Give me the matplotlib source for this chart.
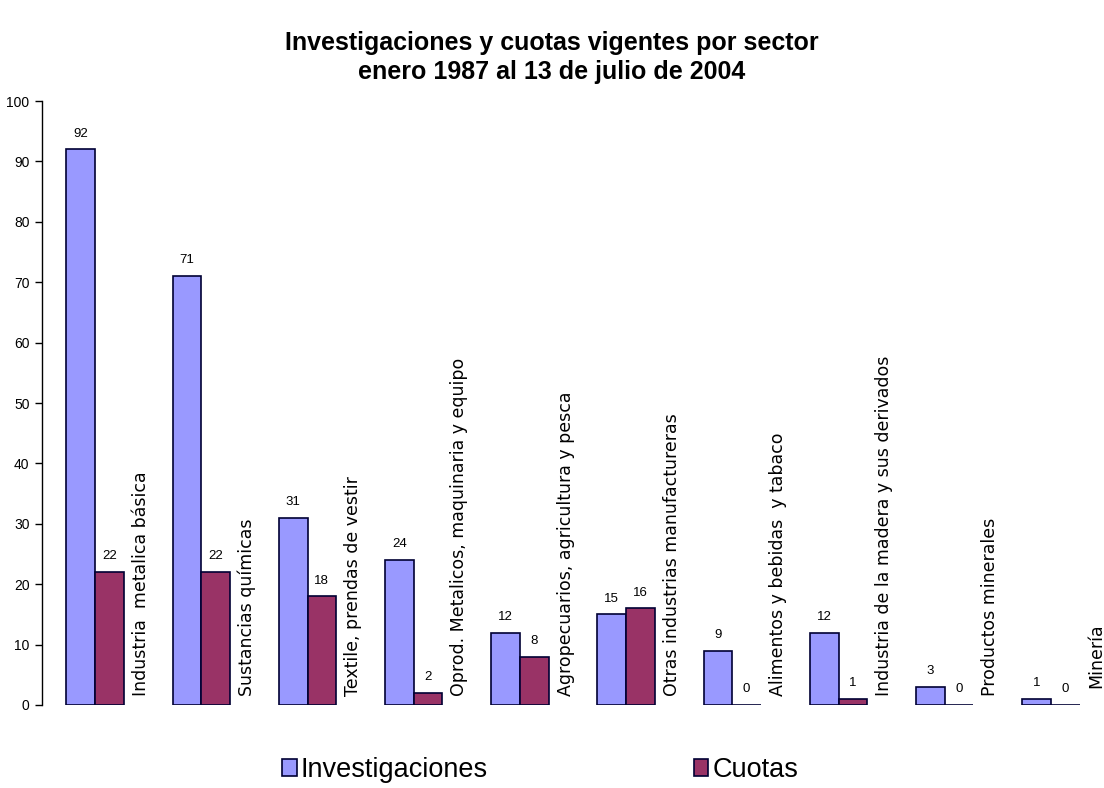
import matplotlib
matplotlib.use("Agg")
import matplotlib.pyplot as plt
import numpy as np

plt.rcParams['font.family'] = ['Liberation Sans', 'DejaVu Sans']

categories = [
    "Industria  metalica básica",
    "Sustancias químicas",
    "Textile, prendas de vestir",
    "Oprod. Metalicos, maquinaria y equipo",
    "Agropecuarios, agricultura y pesca",
    "Otras industrias manufactureras",
    "Alimentos y bebidas  y tabaco",
    "Industria de la madera y sus derivados",
    "Productos minerales",
    "Minería",
]
investigaciones = [92, 71, 31, 24, 12, 15, 9, 12, 3, 1]
cuotas = [22, 22, 18, 2, 8, 16, 0, 1, 0, 0]
yticks = list(range(0, 101, 10))

title = "Investigaciones y cuotas vigentes por sector\nenero 1987 al 13 de julio de 2004"

inv_color = "#9999FF"
cuo_color = "#993366"

fig = plt.figure(figsize=(11.04, 7.88), dpi=100)
ax = fig.add_axes([42/1104, 83/788, 1 - 42/1104, 604/788])

x = np.arange(len(categories))
w = 0.27
b1 = ax.bar(x - w/2, investigaciones, w, color=inv_color, edgecolor="#000033", linewidth=1.2, label="Investigaciones")
b2 = ax.bar(x + w/2, cuotas, w, color=cuo_color, edgecolor="#000033", linewidth=1.2, label="Cuotas")

for rect, v in zip(b1, investigaciones):
    ax.annotate(str(v), (rect.get_x() + rect.get_width()/2, v), xytext=(0, 7),
                textcoords="offset points", ha="center", va="bottom", fontsize=9.5)
for rect, v in zip(b2, cuotas):
    ax.annotate(str(v), (rect.get_x() + rect.get_width()/2, v), xytext=(0, 7),
                textcoords="offset points", ha="center", va="bottom", fontsize=9.5)

label_y = [1.5] * 9 + [2.8]
for xi, name, ly in zip(x, categories, label_y):
    ax.text(xi + 0.43, ly, name, rotation=90, ha="center", va="bottom",
            fontsize=12.5, family="DejaVu Sans")

ax.set_xlim(-0.5, len(categories) - 0.5)
ax.set_ylim(0, 100)
ax.set_yticks(yticks)
ax.tick_params(axis="y", labelsize=10, length=5, width=1, direction="out", pad=4)
ax.set_xticks([])
for s in ["top", "right", "bottom"]:
    ax.spines[s].set_visible(False)
ax.spines["left"].set_linewidth(1)

fig.suptitle(title, fontsize=18, fontweight="bold", y=1 - 31/788, va="top", linespacing=1.25)

fig.legend(handles=[b1, b2], labels=["Investigaciones", "Cuotas"], loc="center",
           bbox_to_anchor=(540/1104, 1 - 770/788), ncol=2, frameon=False,
           fontsize=19.5, handlelength=0.55, handleheight=0.55, handletextpad=0.15,
           columnspacing=7.6)

fig.savefig("out.png", dpi=100, facecolor="white")
